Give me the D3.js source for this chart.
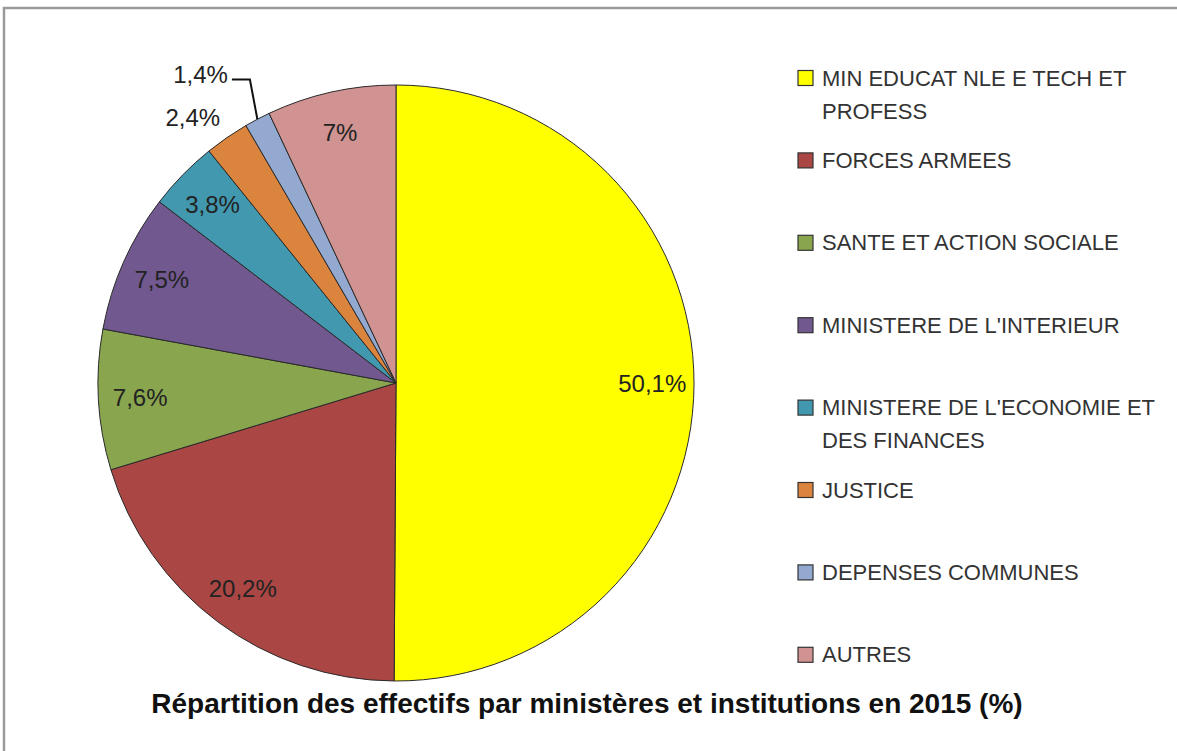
<!DOCTYPE html>
<html>
<head>
<meta charset="utf-8">
<script src="https://cdn.jsdelivr.net/npm/d3@7"></script>
<style>
  html, body { margin: 0; padding: 0; background: #fff; }
  svg { display: block; }
</style>
</head>
<body>
<svg id="chart" width="1177" height="751"></svg>
<script>
const categories = [
  "MIN EDUCAT NLE E TECH ET PROFESS",
  "FORCES ARMEES",
  "SANTE ET ACTION SOCIALE",
  "MINISTERE DE L'INTERIEUR",
  "MINISTERE DE L'ECONOMIE ET DES FINANCES",
  "JUSTICE",
  "DEPENSES COMMUNES",
  "AUTRES"
];
const values = [50.1, 20.2, 7.6, 7.5, 3.8, 2.4, 1.4, 7];
const valueLabels = ["50,1%", "20,2%", "7,6%", "7,5%", "3,8%", "2,4%", "1,4%", "7%"];
const colors = ["#FFFF00", "#AA4643", "#89A54E", "#71588F", "#4198AF", "#DB843D", "#93A9CF", "#D19392"];
const title = "Répartition des effectifs par ministères et institutions en 2015 (%)";

const svg = d3.select("#chart");
const W = 1177, H = 751;
const cx = 396, cy = 383, R = 298;

// frame
svg.append("rect")
  .attr("x", 4).attr("y", 8).attr("width", W + 20).attr("height", H + 20)
  .attr("fill", "#fff").attr("stroke", "#9a9a9a").attr("stroke-width", 2.5);

const data = categories.map((c, i) => ({ name: c, value: values[i], label: valueLabels[i], color: colors[i] }));

const pie = d3.pie().value(d => d.value).sort(null).startAngle(0).endAngle(2 * Math.PI);
const arcs = pie(data);
const arc = d3.arc().innerRadius(0).outerRadius(R);
const labelArc = d3.arc().innerRadius(R * 0.86).outerRadius(R * 0.86);

const g = svg.append("g").attr("transform", `translate(${cx},${cy})`);

g.selectAll("path.slice").data(arcs).enter().append("path")
  .attr("class", "slice")
  .attr("d", arc)
  .attr("fill", d => d.data.color)
  .attr("stroke", "#2a2a2a")
  .attr("stroke-width", 1)
  .attr("stroke-linejoin", "round");

const polar = (a, r) => [r * Math.sin(a), -r * Math.cos(a)];
const labelFont = "'Liberation Sans', Arial, sans-serif";

arcs.forEach((d, i) => {
  const mid = (d.startAngle + d.endAngle) / 2;
  const share = d.data.value / d3.sum(values);
  if (share >= 0.03) {
    const [x, y] = labelArc.centroid(d);
    g.append("text")
      .attr("x", x).attr("y", y)
      .attr("text-anchor", "middle").attr("dominant-baseline", "central")
      .attr("font-family", labelFont).attr("font-size", 24)
      .attr("fill", "#222")
      .text(d.data.label);
  } else if (share >= 0.02) {
    const [x, y] = polar(mid, R * 1.07);
    g.append("text")
      .attr("x", x + 5).attr("y", y - 3)
      .attr("text-anchor", "end").attr("dominant-baseline", "central")
      .attr("font-family", labelFont).attr("font-size", 24)
      .attr("fill", "#222")
      .text(d.data.label);
  } else {
    const p0 = polar(mid, R);
    const p1 = polar(mid + 0.035, R * 1.13);
    const p2 = [p1[0] - 18, p1[1]];
    g.append("path")
      .attr("d", d3.line()([p0, p1, p2]))
      .attr("fill", "none").attr("stroke", "#111").attr("stroke-width", 2);
    g.append("text")
      .attr("x", p2[0] - 4).attr("y", p2[1] - 5)
      .attr("text-anchor", "end").attr("dominant-baseline", "central")
      .attr("font-family", labelFont).attr("font-size", 24)
      .attr("fill", "#222")
      .text(d.data.label);
  }
});

// legend
const legendX = 798, legendY0 = 78, legendStep = 82.4, lineH = 33, maxW = 345;
const legend = svg.append("g");
const measure = svg.append("text").attr("font-family", labelFont).attr("font-size", 22).attr("visibility", "hidden");
function wrap(str) {
  const words = str.split(" ");
  const lines = [];
  let cur = "";
  words.forEach(w => {
    const test = cur ? cur + " " + w : w;
    measure.text(test);
    if (measure.node().getComputedTextLength() > maxW && cur) {
      lines.push(cur); cur = w;
    } else cur = test;
  });
  if (cur) lines.push(cur);
  return lines;
}
const yScale = d3.scaleLinear().domain([0, 1]).range([legendY0, legendY0 + legendStep]);
data.forEach((d, i) => {
  const y = yScale(i);
  legend.append("rect")
    .attr("x", legendX).attr("y", y - 7.5).attr("width", 15).attr("height", 15)
    .attr("fill", d.color).attr("stroke", "#333").attr("stroke-width", 1.2);
  const t = legend.append("text")
    .attr("font-family", labelFont).attr("font-size", 22).attr("fill", "#333");
  wrap(d.name).forEach((ln, k) => {
    t.append("tspan").attr("x", legendX + 24).attr("y", y + k * lineH)
      .attr("dominant-baseline", "central").text(ln);
  });
});
measure.remove();

// title
svg.append("text")
  .attr("x", 587).attr("y", 703)
  .attr("text-anchor", "middle").attr("dominant-baseline", "central")
  .attr("font-family", labelFont).attr("font-size", 28).attr("font-weight", "bold")
  .attr("fill", "#111")
  .text(title);
</script>
</body>
</html>
